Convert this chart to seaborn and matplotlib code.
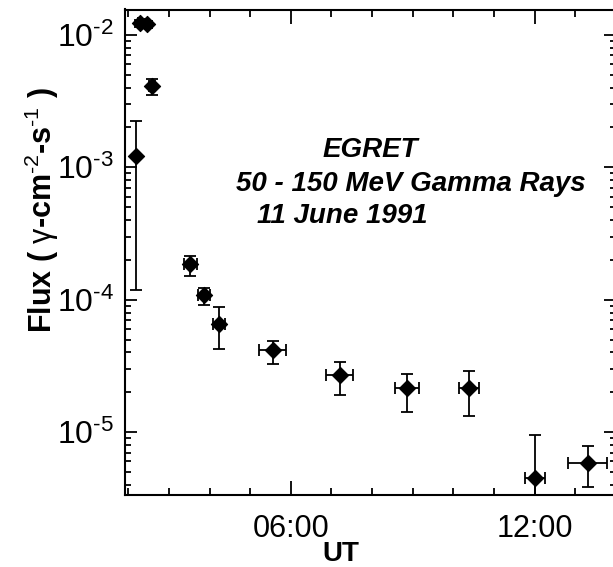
import numpy as np
import matplotlib
matplotlib.use('Agg')
import matplotlib.pyplot as plt
import seaborn as sns
from matplotlib.ticker import FixedLocator, FuncFormatter, LogLocator, NullFormatter, MultipleLocator

sns.set_theme(style='ticks')
plt.rcParams['font.family'] = ['Liberation Sans', 'DejaVu Sans']
plt.rcParams['mathtext.fontset'] = 'custom'
plt.rcParams['mathtext.rm'] = 'Liberation Sans'
plt.rcParams['mathtext.it'] = 'Liberation Sans:italic'
plt.rcParams['mathtext.bf'] = 'Liberation Sans:bold'

# EGRET 50-150 MeV flux (UT in hours)
ut_hours = [2.18, 2.30, 2.45, 2.58, 3.53, 3.87, 4.24, 5.55, 7.20, 8.86, 10.38, 12.00, 13.31]
ut_halfwidth = [0.0, 0.05, 0.05, 0.07, 0.15, 0.15, 0.15, 0.34, 0.33, 0.30, 0.25, 0.25, 0.48]
flux = [1.21e-3, 1.22e-2, 1.20e-2, 4.12e-3, 1.86e-4, 1.09e-4, 6.59e-5, 4.14e-5,
        2.72e-5, 2.15e-5, 2.15e-5, 4.51e-6, 5.85e-6]
flux_hi = [2.22e-3, 1.30e-2, 1.28e-2, 4.66e-3, 2.15e-4, 1.22e-4, 8.85e-5, 4.84e-5,
           3.39e-5, 2.75e-5, 2.92e-5, 9.46e-6, 7.82e-6]
flux_lo = [1.19e-4, 1.14e-2, 1.12e-2, 3.52e-3, 1.50e-4, 9.06e-5, 4.25e-5, 3.27e-5,
           1.90e-5, 1.41e-5, 1.32e-5, 1.0e-6, 3.85e-6]

title_lines = ['EGRET', '50 - 150 MeV Gamma Rays', '11 June 1991']

fig = plt.figure(figsize=(6.13, 5.67), dpi=100)
ax = fig.add_axes([125 / 613, 1 - 495 / 567, 491 / 613, 485.5 / 567])
ax.set_facecolor('white')

y = np.array(flux)
yerr = [y - np.array(flux_lo), np.array(flux_hi) - y]
ax.errorbar(ut_hours, flux, yerr=yerr, xerr=ut_halfwidth, fmt='none', ecolor='black',
            elinewidth=1.3, capsize=4.3, capthick=1.3, zorder=2)
sns.scatterplot(x=ut_hours, y=flux, marker='D', s=68, color='black', edgecolor='black',
                linewidth=0.8, ax=ax, zorder=3, legend=False)

ax.set_yscale('log')
ax.set_xlim(1.92, 14.0)
ax.set_ylim(3.35e-6, 1.556e-2)

ax.xaxis.set_major_locator(FixedLocator([6, 12]))
ax.xaxis.set_minor_locator(MultipleLocator(1))
ax.xaxis.set_major_formatter(FuncFormatter(lambda v, p: f'{int(round(v)):02d}:00'))
ax.yaxis.set_major_locator(LogLocator(base=10, numticks=10))
ax.yaxis.set_minor_locator(LogLocator(base=10, subs=np.arange(2, 10), numticks=20))
ax.yaxis.set_minor_formatter(NullFormatter())
ax.yaxis.set_major_formatter(FuncFormatter(
    lambda v, p: r'$10^{\text{-%d}}$' % int(round(-np.log10(v)))))

for s in ax.spines.values():
    s.set_linewidth(1.5)
    s.set_color('black')

ax.tick_params(which='both', direction='in', top=True, right=True, colors='black', width=1.3)
ax.tick_params(axis='x', which='major', length=10, labelsize=22, pad=14)
ax.tick_params(axis='x', which='minor', length=5)
ax.tick_params(axis='y', which='major', length=8.5, labelsize=23, pad=8)
ax.tick_params(axis='y', which='minor', length=4)

ax.set_xlabel('UT', fontsize=20, fontweight='bold', color='black')
ax.xaxis.set_label_coords(0.44, -0.094)
ax.set_ylabel(r'Flux ( $\mathrm{\gamma}$-cm$^{\text{-2}}$-s$^{\text{-1}}$ )', fontsize=22,
              fontweight='bold', color='black')
ax.yaxis.set_label_coords(-0.13, 0.587)

for txt, (px, py) in zip(title_lines, [(370, 157), (411, 191), (342, 223)]):
    fig.text(px / 613, 1 - py / 567, txt, ha='center', va='baseline', fontsize=20,
             fontweight='bold', fontstyle='italic', color='black')

fig.savefig('out.png', dpi=100)
